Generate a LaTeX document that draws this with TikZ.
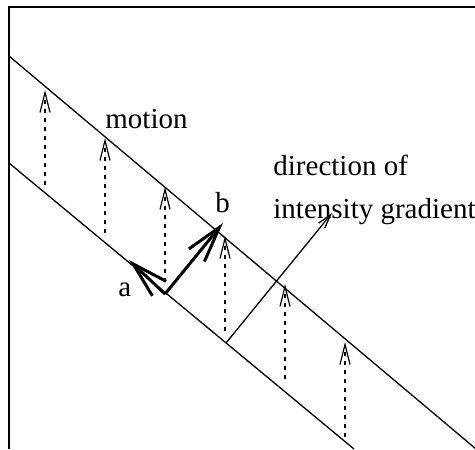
\documentclass[tikz,border=0pt]{standalone}
\usepackage{fontspec}
\setmainfont{Liberation Serif}
\usetikzlibrary{arrows.meta}

\begin{document}
\begin{tikzpicture}[x=0.5pt,y=-0.5pt,
lbl/.style={inner sep=0pt,anchor=base west,font=\fontsize{14.5}{17}\selectfont},
edge/.style={line width=0.65pt},
flow/.style={-{Straight Barb[length=10pt,width=5pt]},line width=0.6pt,dash pattern=on 2pt off 2.5pt},
vec/.style={-{Straight Barb[length=18pt,width=10pt]},line width=1.5pt},
grad/.style={-{Straight Barb[length=7pt,width=4pt]},line width=0.65pt}]
\useasboundingbox (0,0) rectangle (475,449);
% frame
\coordinate (ftop) at (475,7);
\coordinate (fcorner) at (9,7);
\coordinate (fbot) at (9,449);
\draw[line width=1pt] (ftop) -- (fcorner) -- (fbot);
% edge of the moving pattern
\coordinate (u1) at (9,56);
\coordinate (u2) at (476,449);
\coordinate (l1) at (9,163);
\coordinate (l2) at (354,449);
\draw[edge] (u1) -- (u2);
\draw[edge] (l1) -- (l2);
% motion arrows
\foreach \i/\x/\y in {1/45/90,2/105/138,3/165/187,4/225/236,5/285/284,6/345/342}{
  \coordinate (tip\i) at (\x,\y);
  \coordinate (tail\i) at (\x,\y+95);
  \draw[flow] (tail\i) -- (tip\i);
}
% gradient
\coordinate (g0) at (226,343);
\coordinate (g1) at (332,213);
\draw[grad] (g0) -- (g1);
% components a and b
\coordinate (o) at (165,294);
\coordinate (ta) at (129,260);
\coordinate (tb) at (223,223);
\draw[vec] (o) -- (ta);
\draw[vec] (o) -- (tb);
% labels
\node[lbl] (motion) at (105,128) {motion};
\node[lbl] (la) at (118,296) {a};
\node[lbl] (lb) at (215,212) {b};
\node[lbl] (dir1) at (273,175) {direction of};
\node[lbl] (dir2) at (273,218) {intensity gradient};
\end{tikzpicture}
\end{document}
